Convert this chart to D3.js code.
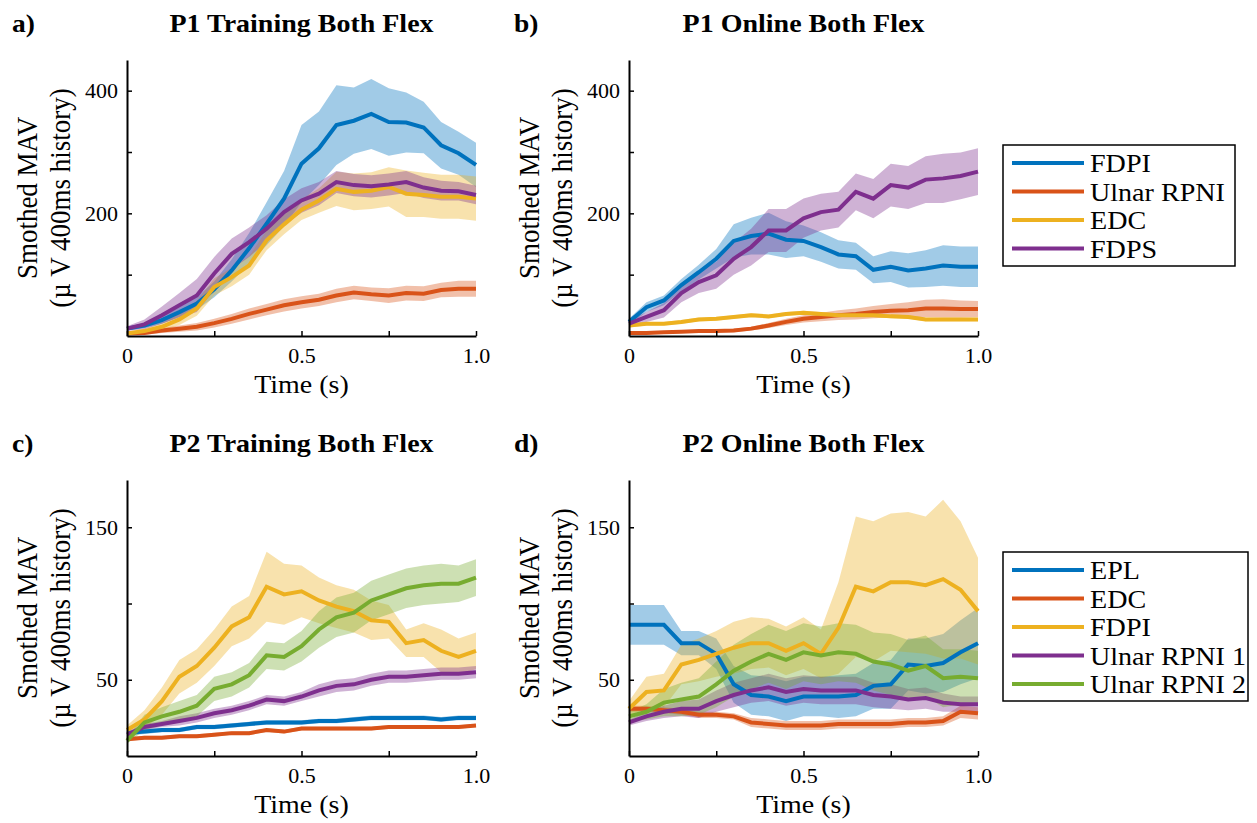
<!DOCTYPE html>
<html>
<head>
<meta charset="utf-8">
<script src="https://cdn.jsdelivr.net/npm/d3@7"></script>
<style>
    body { margin: 0; background: #fff; }
    text { font-family: "Liberation Serif", "Times New Roman", serif; fill: #000; }
</style>
</head>
<body>
<div id="chart"></div>
<script>
// time base (s)
let timeS = [0, 0.05, 0.1, 0.15, 0.2, 0.25, 0.3, 0.35, 0.4, 0.45, 0.5,
    0.55, 0.6, 0.65, 0.7, 0.75, 0.8, 0.85, 0.9, 0.95, 1.0]

let colors = {
    blue: "#0072BD",
    red: "#D95319",
    yellow: "#EDB120",
    purple: "#7E2F8E",
    green: "#77AC30"
}

let p1Names = ["FDPI", "Ulnar RPNI", "EDC", "FDPS"]
let p2Names = ["EPL", "EDC", "FDPI", "Ulnar RPNI 1", "Ulnar RPNI 2"]

// a) P1 training - mean and band half width
let aFDPI = [12, 17, 26, 39, 53, 76, 107, 143, 183, 224, 281, 306, 344, 351, 362, 349, 348, 340, 311, 298, 279]
let aFDPIsd = [3, 4, 6, 8, 10, 13, 18, 25, 35, 45, 63, 60, 65, 54, 57, 55, 49, 42, 38, 35, 36]
let aUlnar = [4, 5, 9, 12, 15, 21, 28, 36, 43, 50, 55, 59, 66, 71, 68, 66, 70, 69, 75, 77, 77]
let aUlnarsd = [2, 3, 4, 5, 6, 7, 8, 9, 9, 10, 10, 10, 11, 11, 11, 12, 12, 12, 12, 13, 13]
let aEDC = [4, 8, 15, 27, 45, 80, 96, 115, 156, 182, 206, 221, 240, 235, 237, 243, 232, 230, 227, 227, 224]
let aEDCsd = [3, 4, 6, 9, 12, 14, 15, 15, 16, 16, 17, 20, 28, 30, 30, 32, 38, 36, 36, 36, 36]
let aFDPS = [12, 19, 34, 50, 66, 102, 134, 153, 175, 202, 221, 232, 251, 246, 244, 247, 251, 242, 237, 236, 230]
let aFDPSsd = [4, 8, 14, 20, 27, 27, 25, 24, 22, 21, 20, 19, 18, 18, 18, 18, 18, 17, 16, 15, 15]

// b) P1 online
let bFDPI = [23, 47, 58, 83, 104, 126, 155, 163, 167, 157, 155, 145, 133, 130, 108, 113, 107, 110, 115, 113, 113]
let bFDPIsd = [5, 8, 8, 10, 12, 16, 27, 30, 34, 30, 25, 24, 23, 22, 22, 25, 28, 30, 33, 33, 33]
let bUlnar = [5, 5, 6, 7, 8, 8, 9, 12, 17, 23, 28, 31, 34, 36, 39, 41, 42, 45, 45, 44, 44]
let bUlnarsd = [2, 2, 2, 2, 2, 2, 3, 3, 4, 5, 6, 7, 8, 9, 10, 11, 13, 14, 15, 14, 13]
let bEDC = [17, 20, 20, 23, 27, 28, 31, 34, 32, 36, 38, 36, 34, 34, 34, 32, 31, 27, 27, 27, 27]
let bEDCsd = [3, 3, 3, 3, 3, 3, 3, 3, 3, 3, 3, 3, 3, 3, 3, 3, 3, 3, 3, 3, 3]
let bFDPS = [20, 31, 42, 70, 88, 99, 126, 145, 172, 172, 192, 202, 206, 235, 224, 246, 242, 255, 257, 261, 268]
let bFDPSsd = [5, 8, 12, 15, 18, 22, 26, 30, 35, 35, 32, 30, 29, 30, 32, 35, 35, 38, 40, 38, 38]

// c) P2 training
let cEPL = [15, 16, 17, 17, 19, 19, 20, 21, 22, 22, 22, 23, 23, 24, 25, 25, 25, 25, 24, 25, 25]
let cEPLsd = [1.5, 1.5, 1.5, 1.5, 1.5, 1.5, 1.5, 1.5, 1.5, 1.5, 1.5, 1.5, 1.5, 1.5, 1.5, 1.5, 1.5, 1.5, 1.5, 1.5, 1.5]
let cEDC = [11, 12, 12, 13, 13, 14, 15, 15, 17, 16, 18, 18, 18, 18, 18, 19, 19, 19, 19, 19, 20]
let cEDCsd = [1.2, 1.2, 1.2, 1.2, 1.2, 1.2, 1.2, 1.2, 1.2, 1.2, 1.2, 1.2, 1.2, 1.2, 1.2, 1.2, 1.2, 1.2, 1.2, 1.2, 1.2]
let cFDPI = [17, 24, 36, 52, 59, 71, 85, 91, 111, 106, 108, 102, 98, 95, 89, 88, 74, 76, 69, 65, 69]
let cFDPIsd = [3, 6, 9, 11, 11, 12, 13, 14, 23, 20, 17, 15, 14, 14, 13, 11, 9, 11, 14, 12, 12]
let cURPNI1 = [14, 19, 21, 23, 25, 28, 30, 33, 37, 36, 39, 43, 46, 47, 50, 52, 52, 53, 54, 54, 55]
let cURPNI1sd = [2, 2, 2, 3, 3, 3, 3, 3, 3, 3, 3, 4, 4, 4, 4, 4, 4, 4, 4, 4, 4]
let cURPNI2 = [10, 22, 26, 29, 33, 44, 47, 53, 66, 65, 72, 83, 91, 94, 102, 106, 110, 112, 113, 113, 117]
let cURPNI2sd = [2, 5, 6, 7, 7, 8, 8, 8, 9, 9, 10, 12, 13, 13, 13, 13, 13, 13, 13, 12, 12]

// d) P2 online
let dEPL = [86, 86, 86, 74, 74, 67, 47, 40, 39, 36, 39, 39, 39, 40, 46, 47, 60, 59, 61, 68, 74]
let dEPLsd = [13, 13, 13, 8, 8, 10, 12, 13, 13, 13, 13, 13, 14, 14, 15, 16, 17, 18, 19, 21, 23]
let dEDC = [31, 31, 30, 29, 27, 27, 26, 22, 21, 20, 20, 20, 21, 21, 21, 21, 22, 22, 23, 29, 28]
let dEDCsd = [2, 2, 2, 2, 2, 2, 2, 3, 3, 3, 3, 3, 3, 3, 3, 3, 3, 3, 3, 4, 4]
let dFDPI = [31, 42, 43, 60, 63, 67, 71, 74, 74, 69, 74, 67, 84, 111, 108, 114, 114, 112, 116, 109, 95]
let dFDPIsd = [5, 10, 11, 13, 14, 15, 17, 17, 16, 16, 17, 16, 30, 46, 46, 45, 46, 45, 52, 45, 35]
let dURPNI1 = [22, 26, 29, 31, 31, 36, 40, 43, 45, 42, 44, 43, 43, 43, 40, 39, 37, 38, 35, 34, 34]
let dURPNI1sd = [2, 3, 4, 5, 6, 7, 8, 8, 9, 9, 9, 9, 9, 9, 8, 8, 7, 7, 6, 5, 5]
let dURPNI2 = [26, 29, 35, 37, 39, 47, 56, 62, 67, 63, 68, 66, 68, 67, 62, 60, 56, 59, 51, 52, 51]
let dURPNI2sd = [3, 5, 9, 11, 12, 15, 17, 18, 19, 19, 19, 19, 19, 19, 19, 20, 20, 20, 19, 18, 18]

let xTicks = [0, 0.25, 0.5, 0.75, 1]
let xTickLabels = { 0: "0", 0.5: "0.5", 1: "1.0" }

const p1Colors = [colors.blue, colors.red, colors.yellow, colors.purple]
const p2Colors = [colors.blue, colors.red, colors.yellow, colors.purple, colors.green]

const panels = [
    { letter: "a)", title: "P1 Training Both Flex", left: 127, right: 476, top: 60, bottom: 336,
      yMax: 450, yTicks: [100, 200, 300, 400], yShow: [200, 400], colors: p1Colors,
      means: [aFDPI, aUlnar, aEDC, aFDPS], sds: [aFDPIsd, aUlnarsd, aEDCsd, aFDPSsd] },
    { letter: "b)", title: "P1 Online Both Flex", left: 629, right: 978, top: 60, bottom: 336,
      yMax: 450, yTicks: [100, 200, 300, 400], yShow: [200, 400], colors: p1Colors,
      means: [bFDPI, bUlnar, bEDC, bFDPS], sds: [bFDPIsd, bUlnarsd, bEDCsd, bFDPSsd] },
    { letter: "c)", title: "P2 Training Both Flex", left: 127, right: 476, top: 480, bottom: 756,
      yMax: 181, yTicks: [50, 100, 150], yShow: [50, 150], colors: p2Colors,
      means: [cEPL, cEDC, cFDPI, cURPNI1, cURPNI2], sds: [cEPLsd, cEDCsd, cFDPIsd, cURPNI1sd, cURPNI2sd] },
    { letter: "d)", title: "P2 Online Both Flex", left: 629, right: 978, top: 480, bottom: 756,
      yMax: 181, yTicks: [50, 100, 150], yShow: [50, 150], colors: p2Colors,
      means: [dEPL, dEDC, dFDPI, dURPNI1, dURPNI2], sds: [dEPLsd, dEDCsd, dFDPIsd, dURPNI1sd, dURPNI2sd] }
]

const svg = d3.select("#chart")
    .append("svg")
    .attr("width", 1257)
    .attr("height", 823)

svg.append("rect").attr("width", 1257).attr("height", 823).attr("fill", "#fff")

// text with a slight horizontal stretch, like the exported figure
function label(x, y, str, size, opts = {}) {
    let sx = opts.sx || 1
    let tr = `translate(${x},${y}) scale(${sx},1)` + (opts.rotate ? ` rotate(${opts.rotate})` : "")
    return svg.append("text")
        .attr("transform", tr)
        .attr("text-anchor", opts.anchor || "start")
        .attr("font-size", size)
        .attr("font-weight", opts.bold ? "bold" : "normal")
        .text(str)
}

panels.forEach(p => {
    const xScale = d3.scaleLinear().domain([0, 1]).range([p.left, p.right])
    const yScale = d3.scaleLinear().domain([0, p.yMax]).range([p.bottom, p.top])
    const cx = (p.left + p.right) / 2
    const cy = (p.top + p.bottom) / 2

    const g = svg.append("g")

    // shaded bands first
    p.means.forEach((m, k) => {
        const area = d3.area()
            .x((d, i) => xScale(timeS[i]))
            .y0((d, i) => yScale(m[i] - p.sds[k][i]))
            .y1((d, i) => yScale(m[i] + p.sds[k][i]))
        g.append("path")
            .datum(m)
            .attr("d", area)
            .attr("fill", p.colors[k])
            .attr("fill-opacity", 0.37)
    })

    p.means.forEach((m, k) => {
        const line = d3.line()
            .x((d, i) => xScale(timeS[i]))
            .y(d => yScale(d))
        g.append("path")
            .datum(m)
            .attr("d", line)
            .attr("fill", "none")
            .attr("stroke", p.colors[k])
            .attr("stroke-width", 4)
    })

    // axes, ticks pointing inward
    const xAxis = d3.axisBottom(xScale)
        .tickValues(xTicks)
        .tickFormat(d => xTickLabels[d] || "")
        .tickSizeInner(-5)
        .tickSizeOuter(0)
        .tickPadding(9)

    const yAxis = d3.axisLeft(yScale)
        .tickValues(p.yTicks)
        .tickFormat(d => p.yShow.includes(d) ? d : "")
        .tickSizeInner(-5)
        .tickSizeOuter(0)
        .tickPadding(9)

    const xg = svg.append("g")
        .attr("transform", `translate(0,${p.bottom})`)
        .call(xAxis)
    const yg = svg.append("g")
        .attr("transform", `translate(${p.left},0)`)
        .call(yAxis)

    ;[xg, yg].forEach(a => {
        a.select(".domain").attr("stroke", "#000").attr("stroke-width", 2)
        a.selectAll(".tick line").attr("stroke", "#000").attr("stroke-width", 1.5)
        a.selectAll(".tick text")
            .attr("font-size", 22)
            .attr("font-family", "Liberation Serif, Times New Roman, serif")
            .attr("fill", "#000")
    })
    xg.selectAll(".tick text").attr("dy", "0.71em").attr("y", 11)

    // titles and labels
    label(p.left - 115, p.top - 28, p.letter, 25, { bold: true, sx: 1.1 })
    label(cx, p.top - 28, p.title, 25, { bold: true, anchor: "middle", sx: 1.12 })
    label(cx, p.bottom + 57, "Time (s)", 25, { anchor: "middle", sx: 1.12 })
    label(p.left - 90, cy, "Smothed MAV", 27, { anchor: "middle", rotate: -90, sx: 1.08 })
    label(p.left - 57, cy, "(\u00b5 V 400ms history)", 27, { anchor: "middle", rotate: -90, sx: 1.08 })
})

// legends
function drawLegend(x, y, w, h, names, cols) {
    svg.append("rect")
        .attr("x", x).attr("y", y)
        .attr("width", w).attr("height", h)
        .attr("fill", "#fff")
        .attr("stroke", "#000")
        .attr("stroke-width", 1.5)
    names.forEach((n, i) => {
        const ly = y + 18 + i * 28.5
        svg.append("line")
            .attr("x1", x + 9).attr("x2", x + 81)
            .attr("y1", ly).attr("y2", ly)
            .attr("stroke", cols[i])
            .attr("stroke-width", 4)
        label(x + 87, ly + 9, n, 26, { sx: 1.08 })
    })
}

drawLegend(1003, 145, 232, 121, p1Names, p1Colors)
drawLegend(1003, 552, 245, 149, p2Names, p2Colors)
</script>
</body>
</html>
